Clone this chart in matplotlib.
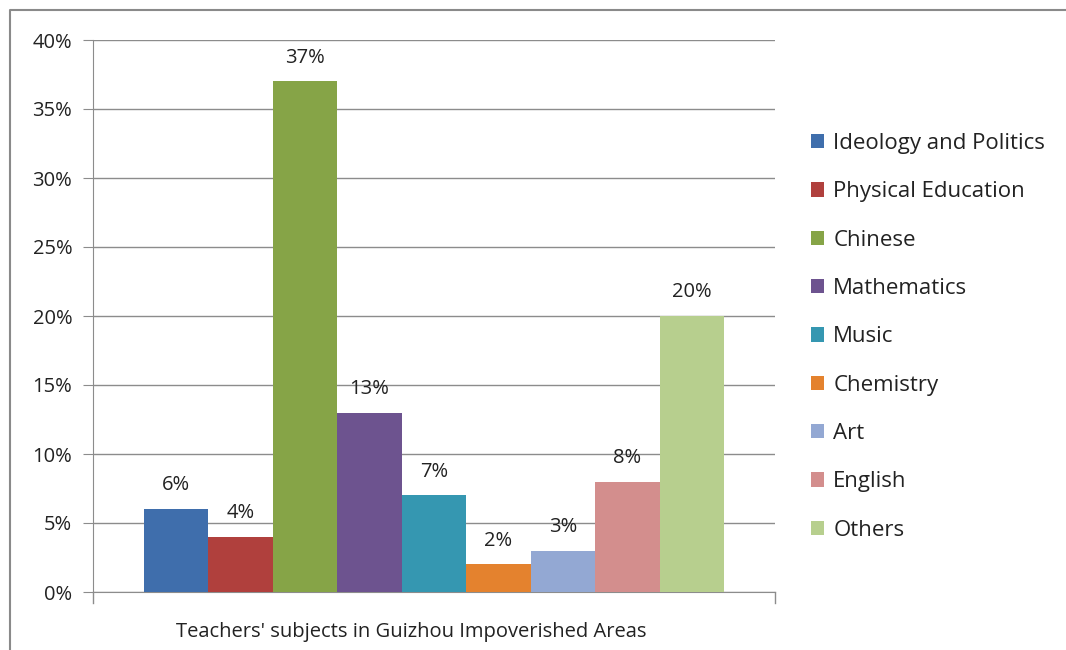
import numpy as np
import matplotlib
matplotlib.use('Agg')
import matplotlib.pyplot as plt
from matplotlib.lines import Line2D
from matplotlib.patches import Patch

subjects = ['Ideology and Politics', 'Physical Education', 'Chinese', 'Mathematics',
            'Music', 'Chemistry', 'Art', 'English', 'Others']
shares = [6, 4, 37, 13, 7, 2, 3, 8, 20]
colors = ['#3F6EAC', '#B0403D', '#86A447', '#6D538F', '#3597B1',
          '#E4822E', '#93A8D3', '#D38E8D', '#B7CF8E']
yticks = [0, 5, 10, 15, 20, 25, 30, 35, 40]
category = "Teachers' subjects in Guizhou Impoverished Areas"

plt.rcParams['font.family'] = ['Open Sans', 'DejaVu Sans']
fs = 14.5

W, H = 1066, 650
fig = plt.figure(figsize=(W / 100, H / 100), dpi=100)
ax = fig.add_axes([93 / W, 58 / H, 682 / W, 552 / H])

pos = np.arange(len(shares))
ax.bar(pos, shares, width=1.0, color=colors, zorder=3)
for x, v in zip(pos, shares):
    ax.text(x, v + 1.0, '{}%'.format(v), ha='center', va='bottom',
            fontsize=fs, color='#222222')

ax.set_xlim(-1.29, 9.29)
ax.set_ylim(0, 40)
ax.set_yticks(yticks)
ax.set_yticklabels(['{}%'.format(t) for t in yticks], fontsize=fs, color='#222222')
ax.set_xticks([])
ax.yaxis.grid(True, color='#8c8c8c', linewidth=1.0, zorder=0)
for s in ['top', 'right']:
    ax.spines[s].set_visible(False)
for s in ['left', 'bottom']:
    ax.spines[s].set_color('#8c8c8c')
ax.tick_params(axis='y', length=7, color='#8c8c8c', pad=8)

# small tick marks at both ends of the category axis
for xe in [-1.29, 9.29]:
    ax.plot([xe, xe], [0, -0.8], color='#8c8c8c', lw=1.0, clip_on=False)

fig.text(411 / W, 1 - 632 / H, category, ha='center', va='center',
         fontsize=14.5, color='#222222')

handles = [Patch(facecolor=c, edgecolor='none') for c in colors]
leg = fig.legend(handles, subjects, loc='upper left',
                 bbox_to_anchor=(791 / W, 1 - 113 / H), frameon=False,
                 fontsize=16, handlelength=0.6, handleheight=0.6,
                 handletextpad=0.4, labelspacing=1.23)
for t in leg.get_texts():
    t.set_color('#222222')

# outer frame around the chart area
fig.add_artist(Line2D([10 / W, 10 / W, 1.0], [0.0, 1 - 10 / H, 1 - 10 / H],
                      transform=fig.transFigure, color='#8a8a8a', lw=1.5))

plt.savefig('out.png', dpi=100)
